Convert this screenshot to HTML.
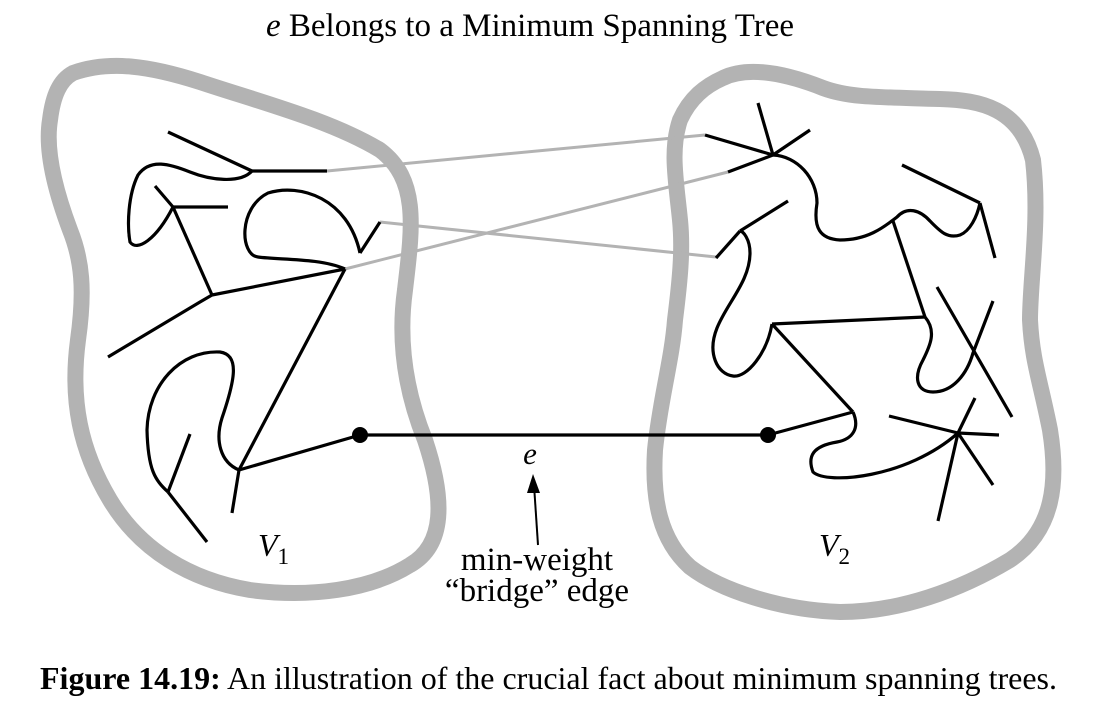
<!DOCTYPE html>
<html><head><meta charset="utf-8"><style>
html,body{margin:0;padding:0;background:#fff;}
svg{display:block;}
text{font-family:"Liberation Serif",serif;fill:#000;}
</style></head><body>
<svg width="1096" height="707" viewBox="0 0 1096 707">
<text x="530" y="36" font-size="33" text-anchor="middle"><tspan font-style="italic">e</tspan> Belongs to a Minimum Spanning Tree</text>

<path fill="none" stroke="#b3b3b3" stroke-width="16" d="M73,73 C110,60 150,66 200,82 C260,102 330,120 380,150 C420,180 412,230 405,290 C398,340 405,390 425,440 C445,500 445,545 410,565 C370,590 310,598 250,590 C190,580 140,550 110,500 C80,450 70,400 78,340 C85,290 82,260 70,230 C55,190 45,150 50,120 C53,95 60,80 73,73 Z"/>
<path fill="none" stroke="#b3b3b3" stroke-width="16" d="M723,78 C750,65 790,75 823,88 C850,98 880,97 940,99 C980,100 1020,108 1033,160 C1040,220 1030,280 1030,320 C1032,360 1040,380 1050,430 C1058,480 1055,530 1010,560 C960,590 900,612 840,612 C780,610 720,590 690,567 C660,540 652,500 655,450 C660,400 672,360 675,320 C680,280 683,250 680,220 C676,180 670,150 680,120 C690,98 705,86 723,78 Z"/>

<g stroke="#b3b3b3" stroke-width="3" fill="none">
<line x1="327" y1="171" x2="705" y2="135"/>
<line x1="345" y1="269" x2="728" y2="172"/>
<line x1="380" y1="222" x2="716" y2="257"/>
</g>

<g stroke="#000" stroke-width="3.2" fill="none" stroke-linecap="butt">
<line x1="168" y1="132" x2="252" y2="171"/>
<line x1="252" y1="171" x2="327" y2="171"/>
<path d="M252,171 C240,184 210,180 190,172 C170,164 150,158 138,175 C128,195 127,225 130,242 C137,252 156,240 173,207"/>
<line x1="155" y1="186" x2="173" y2="207"/>
<line x1="173" y1="207" x2="228" y2="207"/>
<line x1="173" y1="207" x2="212" y2="295"/>
<line x1="212" y1="295" x2="345" y2="269"/>
<polyline points="212,295 200,302 108,357"/>
<path d="M345,269 C320,258 280,260 258,257 C240,255 238,208 268,193 C300,183 348,198 360,253"/>
<line x1="360" y1="253" x2="380" y2="222"/>
<line x1="345" y1="269" x2="239" y2="470"/>
<line x1="239" y1="470" x2="360" y2="435"/>
<line x1="239" y1="470" x2="232" y2="513"/>
<path d="M239,470 C220,462 215,440 222,418 C235,380 240,355 220,352 C180,350 148,385 147,430 C148,470 155,480 168,492"/>
<line x1="168" y1="492" x2="190" y2="434"/>
<line x1="168" y1="492" x2="207" y2="542"/>
</g>

<g stroke="#000" stroke-width="3.2" fill="none">
<line x1="773" y1="155" x2="758" y2="103"/>
<line x1="773" y1="155" x2="810" y2="130"/>
<line x1="773" y1="155" x2="705" y2="135"/>
<line x1="773" y1="155" x2="728" y2="172"/>
<path d="M773,155 C797,156 817,178 817,203 C813,228 820,239 840,240 C867,240 883,228 897,217 C907,206 920,210 930,221 C940,231 947,239 960,235 C970,231 977,217 980,203"/>
<line x1="980" y1="203" x2="902" y2="165"/>
<line x1="980" y1="203" x2="995" y2="258"/>
<line x1="893" y1="221" x2="925" y2="317"/>
<line x1="925" y1="317" x2="772" y2="324"/>
<path d="M925,317 C937,331 930,346 923,360 C913,378 917,392 933,392 C953,392 967,374 973,353 L993,301"/>
<line x1="937" y1="287" x2="1012" y2="417"/>
<line x1="772" y1="324" x2="853" y2="412"/>
<path d="M772,324 C767,353 747,378 733,376 C717,374 707,353 717,328 C727,303 750,281 750,253 C750,239 743,231 740,231"/>
<line x1="740" y1="231" x2="788" y2="201"/>
<line x1="740" y1="231" x2="716" y2="258"/>
<line x1="853" y1="412" x2="768" y2="435"/>
<path d="M853,412 C860,428 853,439 837,442 C813,446 807,456 813,472 C827,485 907,478 958,433"/>
<line x1="958" y1="433" x2="975" y2="398"/>
<line x1="958" y1="433" x2="889" y2="416"/>
<line x1="958" y1="433" x2="999" y2="435"/>
<line x1="958" y1="433" x2="993" y2="485"/>
<line x1="958" y1="433" x2="938" y2="521"/>
</g>

<line x1="360" y1="435" x2="768" y2="435" stroke="#000" stroke-width="3.2"/>
<circle cx="360" cy="435" r="8" fill="#000"/>
<circle cx="768" cy="435" r="8" fill="#000"/>

<text x="530" y="464" font-size="31" font-style="italic" text-anchor="middle">e</text>
<line x1="538" y1="545" x2="534" y2="485" stroke="#000" stroke-width="2"/>
<polygon points="533,474 527,493 540,493" fill="#000"/>
<text x="537" y="570" font-size="33" text-anchor="middle">min-weight</text>
<text x="537" y="601" font-size="33" text-anchor="middle">“bridge” edge</text>

<text x="258" y="556" font-size="32"><tspan font-style="italic">V</tspan><tspan font-size="23" dy="8">1</tspan></text>
<text x="819" y="556" font-size="32"><tspan font-style="italic">V</tspan><tspan font-size="23" dy="8">2</tspan></text>

<text x="40" y="689" font-size="32" textLength="1017" lengthAdjust="spacingAndGlyphs"><tspan font-weight="bold">Figure 14.19:</tspan> An illustration of the crucial fact about minimum spanning trees.</text>
</svg>
</body></html>
